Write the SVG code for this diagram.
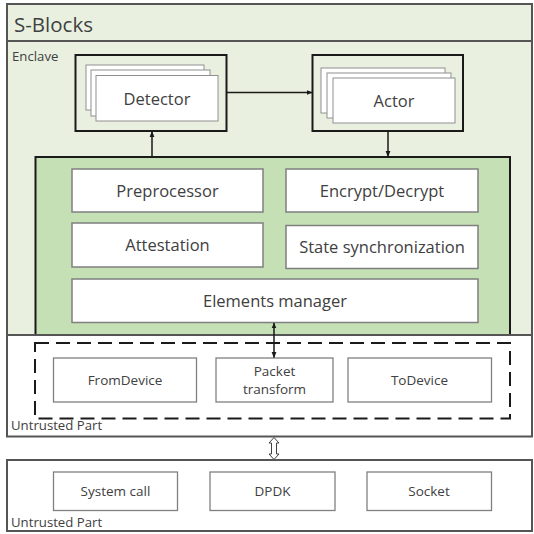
<svg xmlns="http://www.w3.org/2000/svg" width="534" height="534" viewBox="0 0 534 534">
<defs>
<marker id="ah" viewBox="0 0 10 10" refX="9" refY="5" markerWidth="6" markerHeight="6" orient="auto-start-reverse" markerUnits="userSpaceOnUse">
<path d="M0,1 L10,5 L0,9 z" fill="#1a1a1a"/>
</marker>
<style>
text{font-family:"Open Sans","Liberation Sans",sans-serif;fill:#404040}
.t{font-size:16.5px;text-anchor:middle}
.s{font-size:13.5px;text-anchor:middle}
.lbl{font-size:13.2px}
.wb{fill:#fff;stroke:#7f7f7f;stroke-width:1.5}
.gb{fill:#fff;stroke:#808080;stroke-width:1.3}
.page{fill:#fff;stroke:#909090;stroke-width:1}
.frame{fill:none;stroke:#1a1a1a;stroke-width:2}
.con{stroke:#1a1a1a;stroke-width:1.5;fill:none}
</style>
</defs>
<rect width="534" height="534" fill="#fff"/>
<g id="sblocks">
<rect x="7" y="4" width="525" height="331" fill="#e9f0e0" stroke="#555" stroke-width="2"/>
<line x1="7" y1="41" x2="532" y2="41" stroke="#555" stroke-width="2"/>
<text x="14" y="32" font-size="20.5">S-Blocks</text>
<text x="12" y="61" class="lbl">Enclave</text>
</g>
<g id="detector">
<rect x="75.5" y="55" width="151" height="76" fill="#e9f0e0" class="frame"/>
<rect x="86" y="65" width="118" height="45" class="page"/>
<rect x="91" y="70" width="119" height="46" class="page"/>
<rect x="96" y="75.5" width="122" height="45.5" class="page"/>
<text x="157" y="104.5" class="t">Detector</text>
</g>
<g id="actor">
<rect x="312.5" y="55" width="150.5" height="76" fill="#e9f0e0" class="frame"/>
<rect x="321" y="68" width="124" height="45" class="page"/>
<rect x="327" y="73" width="124" height="45" class="page"/>
<rect x="333" y="78" width="122" height="45" class="page"/>
<text x="394" y="106.5" class="t">Actor</text>
</g>
<g id="core">
<rect x="35.5" y="157" width="474.5" height="178" fill="#c5e0b4" stroke="#1a1a1a" stroke-width="2"/>
</g>
<g id="preprocessor"><rect x="72" y="169" width="191" height="43" class="wb"/><text x="167.5" y="196.5" class="t">Preprocessor</text></g>
<g id="encrypt"><rect x="286" y="169" width="192" height="43" class="wb"/><text x="382" y="196.5" class="t">Encrypt/Decrypt</text></g>
<g id="attestation"><rect x="72" y="223" width="191" height="44" class="wb"/><text x="167.5" y="250.5" class="t">Attestation</text></g>
<g id="statesync"><rect x="286" y="225.5" width="192" height="43" class="wb"/><text x="382" y="252.5" class="t">State synchronization</text></g>
<g id="elements"><rect x="72" y="279" width="406" height="43.5" class="wb"/><text x="275" y="306.5" class="t">Elements manager</text></g>
<g id="untrusted1">
<rect x="7" y="335" width="525" height="101.5" fill="#fff" stroke="#555" stroke-width="2"/>
<rect x="35" y="343" width="475" height="75.5" fill="none" stroke="#1a1a1a" stroke-width="2" stroke-dasharray="14,7"/>
<text x="11" y="429.5" class="lbl">Untrusted Part</text>
</g>
<g id="fromdevice"><rect x="53.5" y="358" width="143" height="44" class="gb"/><text x="125" y="385" class="s">FromDevice</text></g>
<g id="packet"><rect x="216" y="358" width="117" height="44" class="gb"/><text x="274.5" y="376" class="s">Packet</text><text x="274.5" y="393.5" class="s">transform</text></g>
<g id="todevice"><rect x="348" y="358" width="143.5" height="44" class="gb"/><text x="419.5" y="385" class="s">ToDevice</text></g>
<g id="untrusted2">
<rect x="7" y="460" width="525" height="71" fill="#fff" stroke="#555" stroke-width="2"/>
<text x="11" y="526.5" class="lbl">Untrusted Part</text>
</g>
<g id="syscall"><rect x="53.5" y="472" width="124" height="38.5" class="gb"/><text x="115.5" y="496" class="s">System call</text></g>
<g id="dpdk"><rect x="210" y="472" width="125" height="38.5" class="gb"/><text x="272.5" y="496" class="s">DPDK</text></g>
<g id="socket"><rect x="367" y="472" width="124.5" height="38.5" class="gb"/><text x="429" y="496" class="s">Socket</text></g>
<g id="connectors">
<line x1="226.5" y1="92.5" x2="312" y2="92.5" class="con" marker-end="url(#ah)"/>
<line x1="152" y1="157" x2="152" y2="131.5" class="con" marker-end="url(#ah)"/>
<line x1="388" y1="131" x2="388" y2="156.5" class="con" marker-end="url(#ah)"/>
<line x1="274" y1="323" x2="274" y2="357.5" class="con" marker-start="url(#ah)" marker-end="url(#ah)"/>
<path d="M274,437.5 L279,443 L276.5,443 L276.5,454 L279,454 L274,459.5 L269,454 L271.5,454 L271.5,443 L269,443 Z" fill="#fff" stroke="#404040" stroke-width="1"/>
</g>
</svg>
